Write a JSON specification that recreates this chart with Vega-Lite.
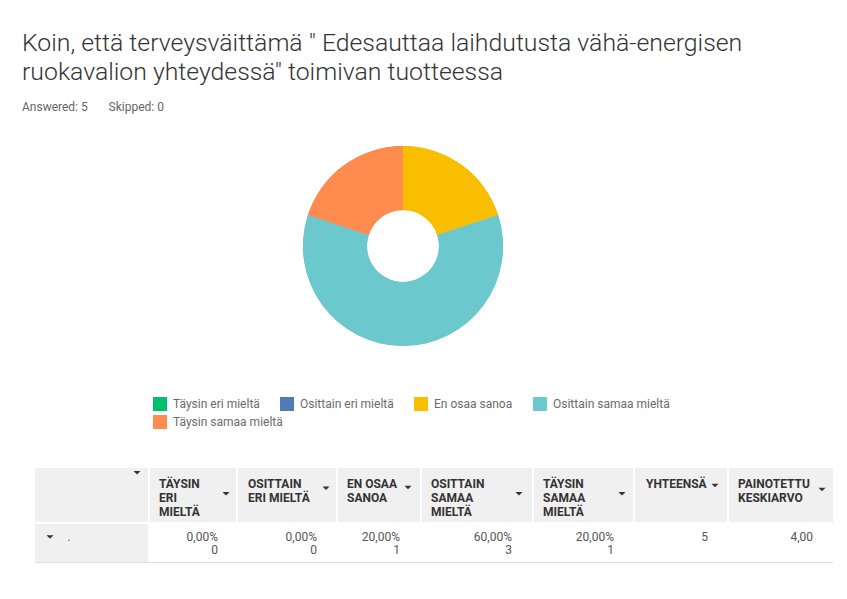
{
  "$schema": "https://vega.github.io/schema/vega-lite/v6.json",
  "background": "white",
  "padding": {"left": 22, "top": 31, "right": 10, "bottom": 10},
  "title": {
    "text": ["Koin, että terveysväittämä \" Edesauttaa laihdutusta vähä-energisen", "ruokavalion yhteydessä\" toimivan tuotteessa"],
    "subtitle": "Answered: 5\u00a0\u00a0\u00a0\u00a0\u00a0\u00a0\u00a0Skipped: 0",
    "anchor": "start",
    "frame": "group",
    "dx": -13,
    "font": "Roboto",
    "fontSize": 24.8,
    "fontWeight": 300,
    "color": "#333333",
    "lineHeight": 29,
    "subtitleFont": "Roboto",
    "subtitleFontSize": 12,
    "subtitleColor": "#666666",
    "subtitlePadding": 17,
    "offset": 23
  },
  "config": {"view": {"stroke": null}, "scale": {"pointPadding": 0}},
  "spacing": 112,
  "vconcat": [
    {
      "width": 736,
      "height": 220,
      "data": {"values": [
        {"answer": "Täysin eri mieltä", "count": 0, "ord": 1},
        {"answer": "Osittain eri mieltä", "count": 0, "ord": 2},
        {"answer": "En osaa sanoa", "count": 1, "ord": 3},
        {"answer": "Osittain samaa mieltä", "count": 3, "ord": 4},
        {"answer": "Täysin samaa mieltä", "count": 1, "ord": 5}
      ]},
      "layer": [
        {
          "mark": {"type": "arc", "innerRadius": 36, "outerRadius": 100},
          "encoding": {
            "theta": {"field": "count", "type": "quantitative", "stack": true},
            "order": {"field": "ord", "type": "quantitative"},
            "color": {
              "field": "answer", "type": "nominal",
              "scale": {
                "domain": ["Täysin eri mieltä", "Osittain eri mieltä", "En osaa sanoa", "Osittain samaa mieltä", "Täysin samaa mieltä"],
                "range": ["#00bf6f", "#507cb6", "#f9be00", "#6bc8cd", "#ff8b4f"]
              },
              "legend": {
                "orient": "none", "legendX": 118, "legendY": 261,
                "direction": "horizontal",
                "values": ["Täysin eri mieltä", "Osittain eri mieltä", "En osaa sanoa", "Osittain samaa mieltä"],
                "title": null, "symbolType": "square", "symbolSize": 196,
                "symbolStrokeWidth": 0, "symbolOpacity": 1,
                "labelFont": "Roboto", "labelFontSize": 12, "labelColor": "#6b6b6b",
                "labelOffset": 6, "columnPadding": 20
              }
            }
          }
        },
        {
          "mark": {"type": "arc", "innerRadius": 36, "outerRadius": 100},
          "encoding": {
            "theta": {"field": "count", "type": "quantitative", "stack": true},
            "order": {"field": "ord", "type": "quantitative"},
            "fill": {
              "field": "answer", "type": "nominal",
              "scale": {
                "domain": ["Täysin samaa mieltä", "Osittain samaa mieltä", "En osaa sanoa", "Osittain eri mieltä", "Täysin eri mieltä"],
                "range": ["#ff8b4f", "#6bc8cd", "#f9be00", "#507cb6", "#00bf6f"]
              },
              "legend": {
                "orient": "none", "legendX": 118, "legendY": 279,
                "direction": "horizontal",
                "values": ["Täysin samaa mieltä"],
                "title": null, "symbolType": "square", "symbolSize": 196,
                "symbolStrokeWidth": 0, "symbolOpacity": 1,
                "labelFont": "Roboto", "labelFontSize": 12, "labelColor": "#6b6b6b",
                "labelOffset": 6
              }
            }
          }
        }
      ]
    },
    {
      "spacing": 2,
      "vconcat": [
        {
          "spacing": 2,
          "hconcat": [
            {
              "width": 113, "height": 54, "view": {"fill": "#f0f0f0", "stroke": null},
              "data": {"values": [{"icon": "sort"}]},
              "mark": {"type": "point", "shape": "M-1,-0.5L1,-0.5L0,0.5Z", "filled": true, "size": 49, "fill": "#333333", "opacity": 1},
              "encoding": {
                "x": {"datum": "end", "type": "nominal", "scale": {"type": "point", "padding": 0, "domain": ["start", "end"], "range": [10, 102]}, "axis": null},
                "y": {"datum": 0.2, "type": "quantitative", "scale": {"domain": [0, 4], "range": [2, 58]}, "axis": null}
              }
            },
            {
              "width": 86, "height": 54, "view": {"fill": "#f0f0f0", "stroke": null},
              "layer": [
                {
                  "data": {"values": [{"line": 1, "text": "TÄYSIN"}, {"line": 2, "text": "ERI"}, {"line": 3, "text": "MIELTÄ"}]},
                  "mark": {"type": "text", "align": "left", "baseline": "middle", "font": "Roboto", "fontWeight": "bold", "fontSize": 12, "fill": "#333333"},
                  "encoding": {
                    "x": {"datum": "start", "type": "nominal", "scale": {"type": "point", "padding": 0, "domain": ["start", "end"], "range": [9, 76]}, "axis": null},
                    "y": {"field": "line", "type": "quantitative", "scale": {"domain": [0, 4], "range": [2, 58]}, "axis": null},
                    "text": {"field": "text"}
                  }
                },
                {
                  "data": {"values": [{"icon": "sort"}]},
                  "mark": {"type": "point", "shape": "M-1,-0.5L1,-0.5L0,0.5Z", "filled": true, "size": 49, "fill": "#333333", "opacity": 1},
                  "encoding": {"x": {"datum": "end", "type": "nominal"}, "y": {"datum": 1.7, "type": "quantitative"}}
                }
              ]
            },
            {
              "width": 98, "height": 54, "view": {"fill": "#f0f0f0", "stroke": null},
              "layer": [
                {
                  "data": {"values": [{"line": 1, "text": "OSITTAIN"}, {"line": 2, "text": "ERI MIELTÄ"}]},
                  "mark": {"type": "text", "align": "left", "baseline": "middle", "font": "Roboto", "fontWeight": "bold", "fontSize": 12, "fill": "#333333"},
                  "encoding": {
                    "x": {"datum": "start", "type": "nominal", "scale": {"type": "point", "padding": 0, "domain": ["start", "end"], "range": [10, 88]}, "axis": null},
                    "y": {"field": "line", "type": "quantitative", "scale": {"domain": [0, 4], "range": [2, 58]}, "axis": null},
                    "text": {"field": "text"}
                  }
                },
                {
                  "data": {"values": [{"icon": "sort"}]},
                  "mark": {"type": "point", "shape": "M-1,-0.5L1,-0.5L0,0.5Z", "filled": true, "size": 49, "fill": "#333333", "opacity": 1},
                  "encoding": {"x": {"datum": "end", "type": "nominal"}, "y": {"datum": 1.3, "type": "quantitative"}}
                }
              ]
            },
            {
              "width": 82, "height": 54, "view": {"fill": "#f0f0f0", "stroke": null},
              "layer": [
                {
                  "data": {"values": [{"line": 1, "text": "EN OSAA"}, {"line": 2, "text": "SANOA"}]},
                  "mark": {"type": "text", "align": "left", "baseline": "middle", "font": "Roboto", "fontWeight": "bold", "fontSize": 12, "fill": "#333333"},
                  "encoding": {
                    "x": {"datum": "start", "type": "nominal", "scale": {"type": "point", "padding": 0, "domain": ["start", "end"], "range": [9, 70]}, "axis": null},
                    "y": {"field": "line", "type": "quantitative", "scale": {"domain": [0, 4], "range": [2, 58]}, "axis": null},
                    "text": {"field": "text"}
                  }
                },
                {
                  "data": {"values": [{"icon": "sort"}]},
                  "mark": {"type": "point", "shape": "M-1,-0.5L1,-0.5L0,0.5Z", "filled": true, "size": 49, "fill": "#333333", "opacity": 1},
                  "encoding": {"x": {"datum": "end", "type": "nominal"}, "y": {"datum": 1.25, "type": "quantitative"}}
                }
              ]
            },
            {
              "width": 110, "height": 54, "view": {"fill": "#f0f0f0", "stroke": null},
              "layer": [
                {
                  "data": {"values": [{"line": 1, "text": "OSITTAIN"}, {"line": 2, "text": "SAMAA"}, {"line": 3, "text": "MIELTÄ"}]},
                  "mark": {"type": "text", "align": "left", "baseline": "middle", "font": "Roboto", "fontWeight": "bold", "fontSize": 12, "fill": "#333333"},
                  "encoding": {
                    "x": {"datum": "start", "type": "nominal", "scale": {"type": "point", "padding": 0, "domain": ["start", "end"], "range": [9, 97]}, "axis": null},
                    "y": {"field": "line", "type": "quantitative", "scale": {"domain": [0, 4], "range": [2, 58]}, "axis": null},
                    "text": {"field": "text"}
                  }
                },
                {
                  "data": {"values": [{"icon": "sort"}]},
                  "mark": {"type": "point", "shape": "M-1,-0.5L1,-0.5L0,0.5Z", "filled": true, "size": 49, "fill": "#333333", "opacity": 1},
                  "encoding": {"x": {"datum": "end", "type": "nominal"}, "y": {"datum": 1.7, "type": "quantitative"}}
                }
              ]
            },
            {
              "width": 99, "height": 54, "view": {"fill": "#f0f0f0", "stroke": null},
              "layer": [
                {
                  "data": {"values": [{"line": 1, "text": "TÄYSIN"}, {"line": 2, "text": "SAMAA"}, {"line": 3, "text": "MIELTÄ"}]},
                  "mark": {"type": "text", "align": "left", "baseline": "middle", "font": "Roboto", "fontWeight": "bold", "fontSize": 12, "fill": "#333333"},
                  "encoding": {
                    "x": {"datum": "start", "type": "nominal", "scale": {"type": "point", "padding": 0, "domain": ["start", "end"], "range": [9, 88]}, "axis": null},
                    "y": {"field": "line", "type": "quantitative", "scale": {"domain": [0, 4], "range": [2, 58]}, "axis": null},
                    "text": {"field": "text"}
                  }
                },
                {
                  "data": {"values": [{"icon": "sort"}]},
                  "mark": {"type": "point", "shape": "M-1,-0.5L1,-0.5L0,0.5Z", "filled": true, "size": 49, "fill": "#333333", "opacity": 1},
                  "encoding": {"x": {"datum": "end", "type": "nominal"}, "y": {"datum": 1.7, "type": "quantitative"}}
                }
              ]
            },
            {
              "width": 92, "height": 54, "view": {"fill": "#f0f0f0", "stroke": null},
              "layer": [
                {
                  "data": {"values": [{"line": 1, "text": "YHTEENSÄ"}]},
                  "mark": {"type": "text", "align": "left", "baseline": "middle", "font": "Roboto", "fontWeight": "bold", "fontSize": 12, "fill": "#333333"},
                  "encoding": {
                    "x": {"datum": "start", "type": "nominal", "scale": {"type": "point", "padding": 0, "domain": ["start", "end"], "range": [11, 80]}, "axis": null},
                    "y": {"field": "line", "type": "quantitative", "scale": {"domain": [0, 4], "range": [2, 58]}, "axis": null},
                    "text": {"field": "text"}
                  }
                },
                {
                  "data": {"values": [{"icon": "sort"}]},
                  "mark": {"type": "point", "shape": "M-1,-0.5L1,-0.5L0,0.5Z", "filled": true, "size": 49, "fill": "#333333", "opacity": 1},
                  "encoding": {"x": {"datum": "end", "type": "nominal"}, "y": {"datum": 1.1, "type": "quantitative"}}
                }
              ]
            },
            {
              "width": 104, "height": 54, "view": {"fill": "#f0f0f0", "stroke": null},
              "layer": [
                {
                  "data": {"values": [{"line": 1, "text": "PAINOTETTU"}, {"line": 2, "text": "KESKIARVO"}]},
                  "mark": {"type": "text", "align": "left", "baseline": "middle", "font": "Roboto", "fontWeight": "bold", "fontSize": 12, "fill": "#333333"},
                  "encoding": {
                    "x": {"datum": "start", "type": "nominal", "scale": {"type": "point", "padding": 0, "domain": ["start", "end"], "range": [9, 93]}, "axis": null},
                    "y": {"field": "line", "type": "quantitative", "scale": {"domain": [0, 4], "range": [2, 58]}, "axis": null},
                    "text": {"field": "text"}
                  }
                },
                {
                  "data": {"values": [{"icon": "sort"}]},
                  "mark": {"type": "point", "shape": "M-1,-0.5L1,-0.5L0,0.5Z", "filled": true, "size": 49, "fill": "#333333", "opacity": 1},
                  "encoding": {"x": {"datum": "end", "type": "nominal"}, "y": {"datum": 1.4, "type": "quantitative"}}
                }
              ]
            }
          ]
        },
        {
          "spacing": 0,
          "hconcat": [
            {
              "width": 113, "height": 39, "view": {"fill": "#f0f0f0", "stroke": null},
              "data": {"values": [{"label": "."}]},
              "layer": [
                {
                  "mark": {"type": "point", "shape": "M-1,-0.5L1,-0.5L0,0.5Z", "filled": true, "size": 49, "fill": "#333333", "opacity": 1},
                  "encoding": {
                    "x": {"datum": "toggle", "type": "nominal", "scale": {"type": "point", "padding": 0, "domain": ["toggle", "label"], "range": [15, 34]}, "axis": null},
                    "y": {"datum": 1, "type": "quantitative", "scale": {"domain": [0, 3], "range": [0, 39]}, "axis": null}
                  }
                },
                {
                  "mark": {"type": "text", "align": "center", "baseline": "middle", "font": "Roboto", "fontSize": 12, "fill": "#555555"},
                  "encoding": {
                    "x": {"datum": "label", "type": "nominal"},
                    "y": {"datum": 1, "type": "quantitative"},
                    "text": {"field": "label"}
                  }
                },
                {
                  "mark": {"type": "rect", "color": "#dddddd"},
                  "encoding": {"y": {"datum": 2.925, "type": "quantitative"}, "y2": {"datum": 3}}
                }
              ]
            },
            {
              "width": 88, "height": 39,
              "data": {"values": [{"line": 1, "text": "0,00%"}, {"line": 2, "text": "0"}]},
              "layer": [
                {
                  "mark": {"type": "text", "align": "right", "baseline": "middle", "font": "Roboto", "fontSize": 12, "fill": "#555555"},
                  "encoding": {
                    "x": {"datum": "end", "type": "nominal", "scale": {"type": "point", "padding": 0, "domain": ["start", "end"], "range": [0, 70]}, "axis": null},
                    "y": {"field": "line", "type": "quantitative", "scale": {"domain": [0, 3], "range": [0, 39]}, "axis": null},
                    "text": {"field": "text"}
                  }
                },
                {
                  "mark": {"type": "rect", "color": "#dddddd"},
                  "encoding": {"y": {"datum": 2.925, "type": "quantitative"}, "y2": {"datum": 3}}
                }
              ]
            },
            {
              "width": 100, "height": 39,
              "data": {"values": [{"line": 1, "text": "0,00%"}, {"line": 2, "text": "0"}]},
              "layer": [
                {
                  "mark": {"type": "text", "align": "right", "baseline": "middle", "font": "Roboto", "fontSize": 12, "fill": "#555555"},
                  "encoding": {
                    "x": {"datum": "end", "type": "nominal", "scale": {"type": "point", "padding": 0, "domain": ["start", "end"], "range": [0, 81]}, "axis": null},
                    "y": {"field": "line", "type": "quantitative", "scale": {"domain": [0, 3], "range": [0, 39]}, "axis": null},
                    "text": {"field": "text"}
                  }
                },
                {
                  "mark": {"type": "rect", "color": "#dddddd"},
                  "encoding": {"y": {"datum": 2.925, "type": "quantitative"}, "y2": {"datum": 3}}
                }
              ]
            },
            {
              "width": 84, "height": 39,
              "data": {"values": [{"line": 1, "text": "20,00%"}, {"line": 2, "text": "1"}]},
              "layer": [
                {
                  "mark": {"type": "text", "align": "right", "baseline": "middle", "font": "Roboto", "fontSize": 12, "fill": "#555555"},
                  "encoding": {
                    "x": {"datum": "end", "type": "nominal", "scale": {"type": "point", "padding": 0, "domain": ["start", "end"], "range": [0, 64]}, "axis": null},
                    "y": {"field": "line", "type": "quantitative", "scale": {"domain": [0, 3], "range": [0, 39]}, "axis": null},
                    "text": {"field": "text"}
                  }
                },
                {
                  "mark": {"type": "rect", "color": "#dddddd"},
                  "encoding": {"y": {"datum": 2.925, "type": "quantitative"}, "y2": {"datum": 3}}
                }
              ]
            },
            {
              "width": 112, "height": 39,
              "data": {"values": [{"line": 1, "text": "60,00%"}, {"line": 2, "text": "3"}]},
              "layer": [
                {
                  "mark": {"type": "text", "align": "right", "baseline": "middle", "font": "Roboto", "fontSize": 12, "fill": "#555555"},
                  "encoding": {
                    "x": {"datum": "end", "type": "nominal", "scale": {"type": "point", "padding": 0, "domain": ["start", "end"], "range": [0, 92]}, "axis": null},
                    "y": {"field": "line", "type": "quantitative", "scale": {"domain": [0, 3], "range": [0, 39]}, "axis": null},
                    "text": {"field": "text"}
                  }
                },
                {
                  "mark": {"type": "rect", "color": "#dddddd"},
                  "encoding": {"y": {"datum": 2.925, "type": "quantitative"}, "y2": {"datum": 3}}
                }
              ]
            },
            {
              "width": 101, "height": 39,
              "data": {"values": [{"line": 1, "text": "20,00%"}, {"line": 2, "text": "1"}]},
              "layer": [
                {
                  "mark": {"type": "text", "align": "right", "baseline": "middle", "font": "Roboto", "fontSize": 12, "fill": "#555555"},
                  "encoding": {
                    "x": {"datum": "end", "type": "nominal", "scale": {"type": "point", "padding": 0, "domain": ["start", "end"], "range": [0, 82]}, "axis": null},
                    "y": {"field": "line", "type": "quantitative", "scale": {"domain": [0, 3], "range": [0, 39]}, "axis": null},
                    "text": {"field": "text"}
                  }
                },
                {
                  "mark": {"type": "rect", "color": "#dddddd"},
                  "encoding": {"y": {"datum": 2.925, "type": "quantitative"}, "y2": {"datum": 3}}
                }
              ]
            },
            {
              "width": 94, "height": 39,
              "data": {"values": [{"line": 1, "text": "5"}]},
              "layer": [
                {
                  "mark": {"type": "text", "align": "right", "baseline": "middle", "font": "Roboto", "fontSize": 12, "fill": "#555555"},
                  "encoding": {
                    "x": {"datum": "end", "type": "nominal", "scale": {"type": "point", "padding": 0, "domain": ["start", "end"], "range": [0, 75]}, "axis": null},
                    "y": {"field": "line", "type": "quantitative", "scale": {"domain": [0, 3], "range": [0, 39]}, "axis": null},
                    "text": {"field": "text"}
                  }
                },
                {
                  "mark": {"type": "rect", "color": "#dddddd"},
                  "encoding": {"y": {"datum": 2.925, "type": "quantitative"}, "y2": {"datum": 3}}
                }
              ]
            },
            {
              "width": 106, "height": 39,
              "data": {"values": [{"line": 1, "text": "4,00"}]},
              "layer": [
                {
                  "mark": {"type": "text", "align": "right", "baseline": "middle", "font": "Roboto", "fontSize": 12, "fill": "#555555"},
                  "encoding": {
                    "x": {"datum": "end", "type": "nominal", "scale": {"type": "point", "padding": 0, "domain": ["start", "end"], "range": [0, 86]}, "axis": null},
                    "y": {"field": "line", "type": "quantitative", "scale": {"domain": [0, 3], "range": [0, 39]}, "axis": null},
                    "text": {"field": "text"}
                  }
                },
                {
                  "mark": {"type": "rect", "color": "#dddddd"},
                  "encoding": {"y": {"datum": 2.925, "type": "quantitative"}, "y2": {"datum": 3}}
                }
              ]
            }
          ]
        }
      ]
    }
  ]
}
